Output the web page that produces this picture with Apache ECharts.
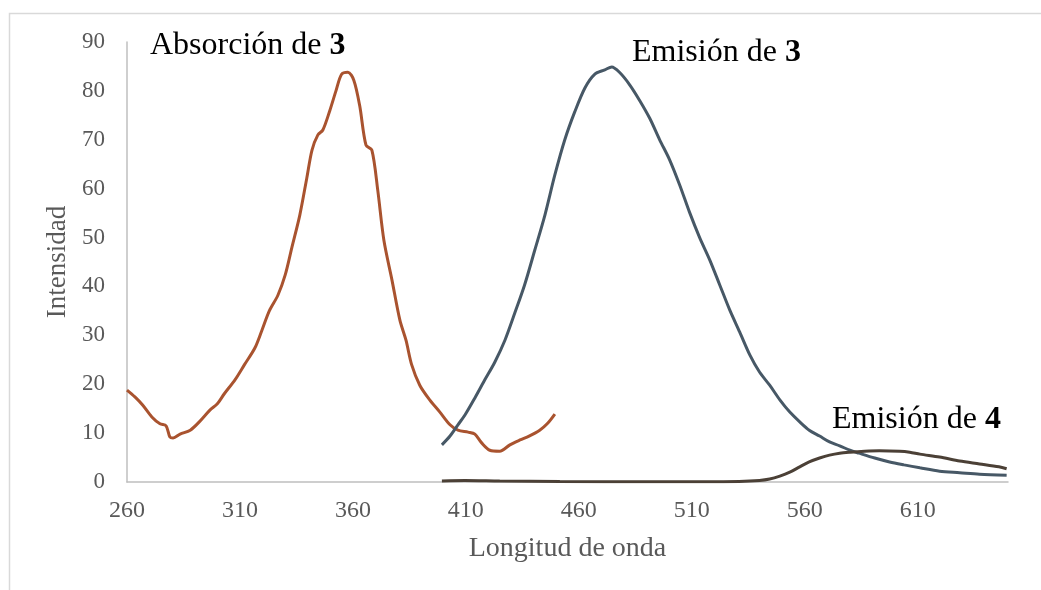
<!DOCTYPE html>
<html>
<head>
<meta charset="utf-8">
<script src="https://cdn.jsdelivr.net/npm/echarts@6/dist/echarts.min.js"></script>
<style>html,body{margin:0;padding:0;background:#fff;}#c{width:1041px;height:590px;}</style>
</head>
<body>
<div id="c"></div>
<script>
// Absorción de 3 : [longitud de onda, intensidad]
var absorcion3 = [
  [260,18.8],[263.5,17.4],[267,15.7],[271,13.3],[274.6,11.9],[277.3,11.5],[279,9.2],[280.4,9.0],
  [283.5,9.8],[288,10.6],[292,12.3],[296.7,14.7],[300,16],[303,18],[307.8,20.9],[312,24],
  [316.6,27.4],[319.7,31],[323,35],[326.8,38.2],[330,42.3],[333,48],[336.5,54.6],[339.6,62.2],
  [341.9,67.9],[344.5,71],[346.7,72],[349.8,76],[352.5,80],[355,83.4],[357.8,83.8],[360.4,82.2],
  [363,77],[365.8,68.9],[368.4,67.9],[371,59.7],[373.7,49.5],[377.3,41.3],[380.8,33.1],[383.5,29],
  [386,24],[389.6,19.8],[394,16.8],[398.5,14.3],[403,11.7],[406.5,10.6],[411,10.2],[414,9.8],
  [417,8],[420.6,6.5],[425,6.3],[429.5,7.6],[434,8.6],[438,9.4],[442.7,10.6],[446,11.9],[449.4,13.9]
];
// Emisión de 3
var emision3 = [
  [399.4,7.6],[403,9.4],[406.5,11.7],[409.6,13.7],[414,17.2],[418.4,20.9],[422.8,24.5],[427.3,29],
  [431.7,34.6],[436,40.3],[440.5,47.4],[445,54.6],[449.4,62.8],[453.8,70],[458.2,75.7],[462.7,80.6],
  [467,83.4],[471.5,84.3],[474.6,84.9],[478,83.8],[482.6,81.2],[487,78],[491.4,74.4],[495.8,70],
  [500.3,65.8],[504.7,60.7],[509,55.2],[513.5,50],[518,45.4],[522.4,40.3],[526.8,35.2],[531.2,30.7],
  [535.7,26],[540,22.5],[544.5,19.8],[549,16.8],[553.4,14.3],[557.8,12.3],[562,10.6],[566.6,9.4],
  [571,8.2],[575.5,7.4],[580,6.5],[584,5.9],[591,4.9],[597.6,4.1],[604,3.5],[611,2.9],
  [619.7,2.2],[628.6,1.9],[637.4,1.6],[649.4,1.4]
];
// Emisión de 4
var emision4 = [
  [399.4,0.2],[409.6,0.3],[425,0.2],[451.6,0.1],[491,0.05],[513.5,0.05],[531,0.1],[540,0.3],
  [544.5,0.6],[549,1.2],[553.4,2.0],[557.8,3.1],[562,4.1],[566.6,4.9],[571,5.5],[575.5,5.9],
  [580,6.1],[586.5,6.3],[593,6.4],[602,6.3],[606.5,6.1],[611,5.7],[619.7,5.1],[628.6,4.3],
  [637.4,3.7],[646,3.1],[649.4,2.7]
];
var xMin = 260, xMax = 650, xStep = 50;
var yMin = 0, yMax = 90, yStep = 10;

var serif = '"Liberation Serif", "DejaVu Serif", serif';
var chart = echarts.init(document.getElementById('c'), null, {renderer: 'canvas'});
function lineSeries(name, data, color) {
  return {
    name: name, type: 'line', data: data, showSymbol: false, smooth: 0.3,
    lineStyle: {color: color, width: 3}, itemStyle: {color: color}, animation: false
  };
}
function label(x, y, txt, num) {
  return {
    type: 'text', left: x, top: y,
    style: {
      text: '{n|' + txt + '}{b|' + num + '}',
      rich: {
        n: {fontFamily: serif, fontSize: 32, fill: '#000', color: '#000'},
        b: {fontFamily: serif, fontSize: 32, fontWeight: 'bold', fill: '#000', color: '#000'}
      }
    }
  };
}
chart.setOption({
  backgroundColor: '#fff',
  animation: false,
  grid: {left: 127, right: 33, top: 42, bottom: 108, containLabel: false},
  xAxis: {
    type: 'value', min: xMin, max: xMax, interval: xStep,
    name: 'Longitud de onda', nameLocation: 'middle', nameGap: 53,
    nameTextStyle: {fontFamily: serif, fontSize: 28, color: '#595959'},
    axisLine: {show: true, lineStyle: {color: '#bfbfbf', width: 1.5}},
    axisTick: {show: false},
    splitLine: {show: false},
    axisLabel: {fontFamily: serif, fontSize: 24, color: '#595959', margin: 17, showMaxLabel: false}
  },
  yAxis: {
    type: 'value', min: yMin, max: yMax, interval: yStep,
    name: 'Intensidad', nameLocation: 'middle', nameGap: 56,
    nameTextStyle: {fontFamily: serif, fontSize: 27, color: '#595959'},
    axisLine: {show: true, lineStyle: {color: '#bfbfbf', width: 1.5}},
    axisTick: {show: false},
    splitLine: {show: false},
    axisLabel: {fontFamily: serif, fontSize: 23, color: '#595959', margin: 22}
  },
  series: [
    lineSeries('Absorción de 3', absorcion3, '#A9532F'),
    lineSeries('Emisión de 3', emision3, '#475866'),
    lineSeries('Emisión de 4', emision4, '#4B4036')
  ],
  graphic: [
    {type: 'rect', shape: {x: 9.5, y: 13.5, width: 1200, height: 800}, style: {fill: 'none', stroke: '#d9d9d9', lineWidth: 1.5}, silent: true},
    label(150, 30, 'Absorción de ', '3'),
    label(632, 37, 'Emisión de ', '3'),
    label(832, 404, 'Emisión de ', '4')
  ]
});
</script>
</body>
</html>
